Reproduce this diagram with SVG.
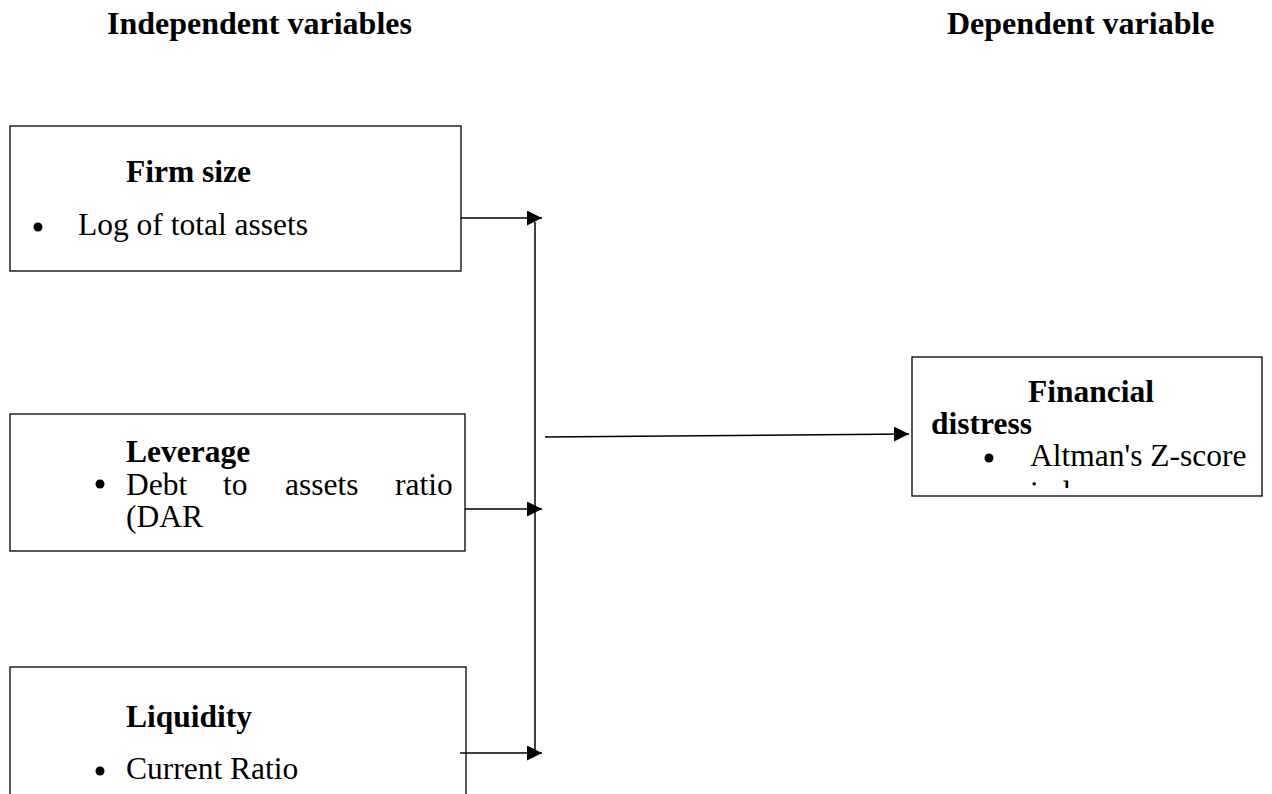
<svg xmlns="http://www.w3.org/2000/svg" width="1272" height="794" viewBox="0 0 1272 794">
<style>
text{font-family:"Liberation Serif","Times New Roman",serif;fill:#000;font-size:31.5px}
.h{font-weight:bold;font-size:32px}
.b{font-weight:bold}
.box{fill:#fff;stroke:#000;stroke-width:1.3}
.ln{stroke:#000;stroke-width:1.5;fill:none}
.dot{fill:#000}
</style>
<defs>
<marker id="ah" viewBox="0 0 15 15" refX="15" refY="7.5" markerWidth="15" markerHeight="15" markerUnits="userSpaceOnUse" orient="auto">
<path d="M0,0 L15,7.5 L0,15 z" fill="#000"/>
</marker>
<clipPath id="fdclip"><rect x="912" y="357" width="350" height="131"/></clipPath>
</defs>
<rect width="1272" height="794" fill="#fff"/>
<g id="headers">
<text class="h" x="107" y="34">Independent variables</text>
<text class="h" x="947" y="34">Dependent variable</text>
</g>
<g id="firm-size">
<rect class="box" x="10" y="126" width="451" height="145"/>
<text class="b" x="126" y="182">Firm size</text>
<circle class="dot" cx="38" cy="227" r="4.5"/>
<text x="78" y="235">Log of total assets</text>
</g>
<g id="leverage">
<rect class="box" x="10" y="414" width="455" height="137"/>
<text class="b" x="126" y="462">Leverage</text>
<circle class="dot" cx="100" cy="484" r="4.5"/>
<text x="126" y="495">Debt</text>
<text x="223" y="495">to</text>
<text x="285" y="495">assets</text>
<text x="395" y="495">ratio</text>
<text x="126" y="527">(DAR</text>
</g>
<g id="liquidity">
<rect class="box" x="10" y="667" width="456" height="140"/>
<text class="b" x="126" y="727">Liquidity</text>
<circle class="dot" cx="100" cy="771" r="4.5"/>
<text x="126" y="779">Current Ratio</text>
</g>
<g id="financial-distress">
<rect class="box" x="912" y="357" width="350" height="139"/>
<text class="b" x="1028" y="402">Financial</text>
<text class="b" x="931" y="434">distress</text>
<circle class="dot" cx="989" cy="458" r="4.5"/>
<text x="1030" y="466">Altman's Z-score</text>
<text x="1030" y="503" clip-path="url(#fdclip)">index</text>
</g>
<g id="connectors">
<line class="ln" x1="461" y1="218" x2="542" y2="218" marker-end="url(#ah)"/>
<line class="ln" x1="465" y1="509" x2="542" y2="509" marker-end="url(#ah)"/>
<line class="ln" x1="460" y1="753" x2="542" y2="753" marker-end="url(#ah)"/>
<line class="ln" x1="535" y1="222" x2="535" y2="753"/>
<line class="ln" x1="545" y1="437" x2="909" y2="434" marker-end="url(#ah)"/>
</g>
</svg>
